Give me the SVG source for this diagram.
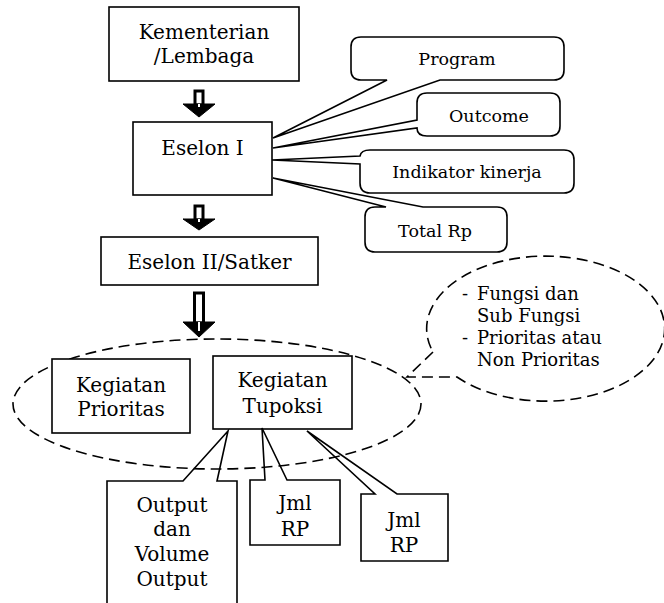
<svg xmlns="http://www.w3.org/2000/svg" width="664" height="603" viewBox="0 0 664 603">
<style>
.box{fill:#fff;stroke:#000;stroke-width:1.6}
.open{fill:none;stroke:#000;stroke-width:1.6}
.t{font-family:"DejaVu Serif","Liberation Serif",serif;font-size:20px;fill:#000;text-anchor:middle}
.s{font-family:"DejaVu Serif","Liberation Serif",serif;font-size:17.5px;fill:#000;text-anchor:middle}
.e{font-family:"DejaVu Serif","Liberation Serif",serif;font-size:18px;fill:#000}
.dash{fill:none;stroke:#000;stroke-width:1.6;stroke-dasharray:11 6}
.shaft{fill:#fff;stroke:#000;stroke-width:3}
.head{fill:#000;stroke:#000;stroke-width:1;stroke-linejoin:miter}
.core{stroke:#fff;stroke-width:2}
</style>
<rect width="664" height="603" fill="#fff"/>

<g id="connectors">
<rect class="shaft" x="195" y="91" width="8" height="14"/>
<path class="head" d="M183,104 H215 L199,117 Z"/>
<line class="core" x1="199" y1="104" x2="199" y2="107"/>
<rect class="shaft" x="195" y="206" width="8" height="14"/>
<path class="head" d="M183,219 H215 L199,230 Z"/>
<line class="core" x1="199" y1="219" x2="199" y2="222"/>
<rect class="shaft" x="194.5" y="293" width="9" height="30"/>
<path class="head" d="M183,322 H215 L199,337 Z"/>
<line class="core" x1="199" y1="322" x2="199" y2="331"/>
</g>

<g id="group-ellipse">
<ellipse class="dash" cx="217" cy="404" rx="204" ry="65"/>
</g>

<g id="kementerian">
<rect class="box" x="109" y="7" width="190" height="74"/>
<text class="t" x="204" y="39">Kementerian</text>
<text class="t" x="204" y="63">/Lembaga</text>
</g>

<g id="eselon1">
<rect class="box" x="133" y="122" width="139" height="73"/>
<text class="t" x="202.5" y="155">Eselon I</text>
</g>

<g id="program">
<path class="box" d="M361,37 H554 Q564,37 564,47 V70 Q564,80 554,80 H440 L273,138 L387,80 H361 Q351,80 351,70 V47 Q351,37 361,37 Z"/>
<text class="s" x="457" y="65">Program</text>
</g>

<g id="outcome">
<path class="box" d="M427,93 H550 Q560,93 560,103 V126 Q560,136 550,136 H427 Q417,136 417,128 L273,148 L417,120 V103 Q417,93 427,93 Z"/>
<text class="s" x="489" y="122">Outcome</text>
</g>

<g id="indikator">
<path class="box" d="M370,150 H564 Q574,150 574,160 V183 Q574,193 564,193 H370 Q360,193 360,183 V164 L272,160 L360,156 Q361,150 370,150 Z"/>
<text class="s" x="467" y="178">Indikator kinerja</text>
</g>

<g id="total-rp">
<path class="box" d="M375,207 H386 L273,178 L423,207 H497 Q507,207 507,217 V242 Q507,252 497,252 H375 Q365,252 365,242 V217 Q365,207 375,207 Z"/>
<text class="s" x="435" y="237">Total Rp</text>
</g>

<g id="eselon2">
<rect class="box" x="101" y="237" width="217" height="48"/>
<text class="t" x="209.5" y="269">Eselon II/Satker</text>
</g>

<g id="fungsi-callout">
<path class="dash" d="M433,352 L407,377 L457,377 A119,72.5 0 1 0 433,352"/>
<text class="e" x="462" y="300">-</text>
<text class="e" x="477" y="300">Fungsi dan</text>
<text class="e" x="477" y="322">Sub Fungsi</text>
<text class="e" x="462" y="344">-</text>
<text class="e" x="477" y="344">Prioritas atau</text>
<text class="e" x="477" y="366">Non Prioritas</text>
</g>

<g id="kegiatan-prioritas">
<rect class="box" x="52" y="359" width="138" height="74"/>
<text class="t" x="121" y="392">Kegiatan</text>
<text class="t" x="121" y="416">Prioritas</text>
</g>

<g id="kegiatan-tupoksi">
<rect class="box" x="213" y="356" width="139" height="73"/>
<text class="t" x="282.5" y="387">Kegiatan</text>
<text class="t" x="282.5" y="413">Tupoksi</text>
</g>

<g id="output">
<path class="open" d="M107,481 H183 L228,431 L217,481 H237 V610 H107 Z"/>
<text class="t" x="172" y="512">Output</text>
<text class="t" x="172" y="536">dan</text>
<text class="t" x="172" y="561">Volume</text>
<text class="t" x="172" y="586">Output</text>
</g>

<g id="jml-rp-1">
<path class="open" d="M250,480 H265 L262,428 L287,480 H340 V545 H250 Z"/>
<text class="t" x="295" y="510">Jml</text>
<text class="t" x="295" y="536">RP</text>
</g>

<g id="jml-rp-2">
<path class="open" d="M361,494 H375 L307,431 L397,494 H448 V561 H361 Z"/>
<text class="t" x="404" y="527">Jml</text>
<text class="t" x="404" y="552">RP</text>
</g>
</svg>
